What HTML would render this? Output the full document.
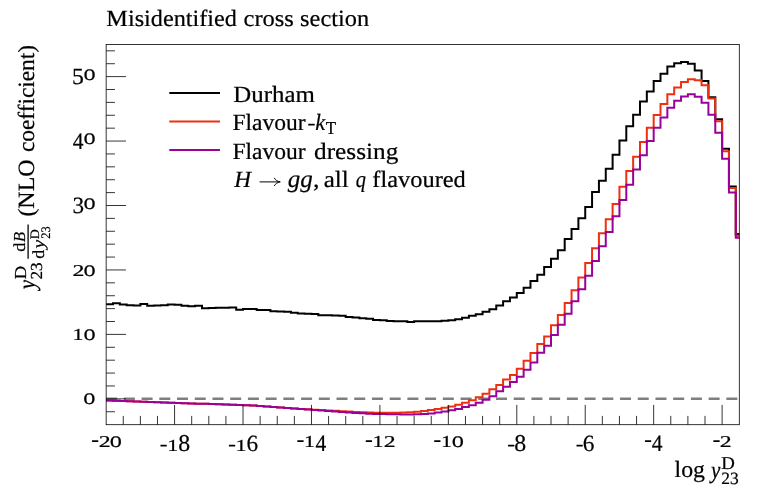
<!DOCTYPE html>
<html><head><meta charset="utf-8"><title>Misidentified cross section</title>
<style>
html,body{margin:0;padding:0;background:#fff;}
body{width:763px;height:488px;overflow:hidden;font-family:"Liberation Serif",serif;}
svg{display:block;}
svg text{text-rendering:geometricPrecision;stroke:#000;stroke-width:0.22px;stroke-linejoin:round;}
</style></head><body>
<svg width="763" height="488" viewBox="0 0 763 488" font-family='"Liberation Serif", serif' fill="#000"><rect x="0" y="0" width="763" height="488" fill="#fff"/><g opacity="0.9999"><path d="M106.15,398.85H737.80" stroke="#7f7f7f" stroke-width="2.5" stroke-dasharray="11.0 6.72" fill="none"/><path d="M106.15,304.15H112.99V303.35H119.84V304.55H126.68V305.15H133.53V305.45H140.37V303.95H147.21V305.65H154.06V305.45H160.90V305.15H167.75V304.55H174.59V304.75H181.43V305.85H188.28V306.25H195.12V305.85H201.97V308.25H208.81V308.05H215.65V307.85H222.50V307.65H229.34V307.45H236.19V309.85H243.03V309.05H249.87V308.95H256.72V309.95H263.56V309.95H270.41V311.25H277.25V311.45H284.09V311.85H290.94V312.65H297.78V313.45H304.63V313.65H311.47V314.05H318.31V315.25H325.16V315.25H332.00V315.45H338.85V315.85H345.69V316.95H352.53V317.55H359.38V318.15H366.22V318.75H373.07V319.95H379.91V320.15H386.75V320.95H393.60V321.15H400.44V321.15H407.29V321.95H414.13V321.35H420.97V321.35H427.82V321.35H434.66V321.35H441.51V320.75H448.35V320.15H455.19V319.15H462.04V317.65H468.88V315.85H475.73V314.25H482.57V311.75H489.41V309.35H496.26V305.45H503.10V301.25H509.95V297.55H516.79V293.05H523.63V287.75H530.48V280.95H537.32V274.75H544.17V266.95H551.01V258.65H557.85V250.25H564.70V239.05H571.54V228.95H578.39V218.35H585.23V206.95H592.07V192.05H598.92V180.85H605.76V168.65H612.61V154.75H619.45V140.55H626.29V126.35H633.14V114.75H639.98V101.55H646.83V91.45H653.67V80.95H660.51V73.85H667.36V66.45H674.20V63.25H681.05V61.95H687.89V63.75H694.73V70.55H701.58V80.95H708.42V97.35H715.27V119.35H722.11V148.85H728.95V186.45H735.80V234.05H739.30" stroke="#000000" stroke-width="2.0" fill="none" stroke-linejoin="miter"/><path d="M106.15,400.48H112.99V400.73H119.84V400.98H126.68V401.22H133.53V401.47H140.37V401.72H147.21V401.97H154.06V402.22H160.90V402.46H167.75V402.71H174.59V402.95H181.43V403.18H188.28V403.41H195.12V403.63H201.97V403.86H208.81V404.09H215.65V404.32H222.50V404.55H229.34V404.78H236.19V405.00H243.03V405.23H249.87V405.59H256.72V406.09H263.56V406.58H270.41V407.08H277.25V407.58H284.09V408.07H290.94V408.50H297.78V408.90H304.63V409.29H311.47V409.68H318.31V410.07H325.16V410.46H332.00V410.86H338.85V411.25H345.69V411.62H352.53V411.99H359.38V412.36H366.22V412.62H373.07V412.68H379.91V412.74H386.75V412.81H393.60V412.79H400.44V412.59H407.29V412.15H414.13V411.65H420.97V411.05H427.82V410.05H434.66V409.05H441.51V407.65H448.35V406.45H455.19V404.75H462.04V402.75H468.88V400.25H475.73V397.25H482.57V393.75H489.41V389.35H496.26V385.05H503.10V379.55H509.95V375.05H516.79V368.75H523.63V360.85H530.48V353.05H537.32V344.05H544.17V336.45H551.01V325.25H557.85V314.95H564.70V302.95H571.54V290.25H578.39V277.45H585.23V262.95H592.07V248.25H598.92V233.15H605.76V219.15H612.61V204.05H619.45V186.75H626.29V171.05H633.14V156.65H639.98V141.95H646.83V127.75H653.67V114.95H660.51V104.05H667.36V94.35H674.20V87.45H681.05V82.05H687.89V79.25H694.73V80.15H701.58V85.35H708.42V98.45H715.27V121.25H722.11V151.25H728.95V187.95H735.80V235.65H739.30" stroke="#ee3010" stroke-width="2.0" fill="none" stroke-linejoin="miter"/><path d="M106.15,400.48H112.99V400.73H119.84V400.98H126.68V401.22H133.53V401.47H140.37V401.72H147.21V401.97H154.06V402.22H160.90V402.46H167.75V402.71H174.59V402.95H181.43V403.18H188.28V403.41H195.12V403.63H201.97V403.86H208.81V404.09H215.65V404.32H222.50V404.55H229.34V404.78H236.19V405.00H243.03V405.23H249.87V405.59H256.72V406.09H263.56V406.58H270.41V407.08H277.25V407.58H284.09V408.07H290.94V408.57H297.78V409.07H304.63V409.56H311.47V410.06H318.31V410.55H325.16V411.03H332.00V411.52H338.85V412.00H345.69V412.46H352.53V412.91H359.38V413.37H366.22V413.72H373.07V413.89H379.91V414.06H386.75V414.23H393.60V414.37H400.44V414.45H407.29V414.55H414.13V414.35H420.97V413.95H427.82V413.55H434.66V412.55H441.51V411.45H448.35V410.25H455.19V409.05H462.04V407.05H468.88V405.15H475.73V402.75H482.57V399.85H489.41V396.25H496.26V391.35H503.10V386.85H509.95V381.95H516.79V376.65H523.63V369.75H530.48V362.45H537.32V352.75H544.17V345.85H551.01V335.05H557.85V324.85H564.70V313.85H571.54V301.25H578.39V289.25H585.23V275.85H592.07V261.05H598.92V246.25H605.76V231.95H612.61V216.15H619.45V200.05H626.29V184.75H633.14V169.45H639.98V155.25H646.83V140.95H653.67V127.75H660.51V117.45H667.36V107.65H674.20V100.85H681.05V96.55H687.89V94.35H694.73V96.85H701.58V102.85H708.42V114.85H715.27V132.65H722.11V158.65H728.95V192.55H735.80V237.75H739.30" stroke="#9a0099" stroke-width="2.0" fill="none" stroke-linejoin="miter"/><path d="M123.26,424.70v-8.8M140.37,424.70v-8.8M157.48,424.70v-8.8M174.59,424.70v-19.8M191.70,424.70v-8.8M208.81,424.70v-8.8M225.92,424.70v-8.8M243.03,424.70v-19.8M260.14,424.70v-8.8M277.25,424.70v-8.8M294.36,424.70v-8.8M311.47,424.70v-19.8M328.58,424.70v-8.8M345.69,424.70v-8.8M362.80,424.70v-8.8M379.91,424.70v-19.8M397.02,424.70v-8.8M414.13,424.70v-8.8M431.24,424.70v-8.8M448.35,424.70v-19.8M465.46,424.70v-8.8M482.57,424.70v-8.8M499.68,424.70v-8.8M516.79,424.70v-19.8M533.90,424.70v-8.8M551.01,424.70v-8.8M568.12,424.70v-8.8M585.23,424.70v-19.8M602.34,424.70v-8.8M619.45,424.70v-8.8M636.56,424.70v-8.8M653.67,424.70v-19.8M670.78,424.70v-8.8M687.89,424.70v-8.8M705.00,424.70v-8.8M722.11,424.70v-19.8M106.15,411.74h8.8M106.15,398.85h19.8M106.15,385.96h8.8M106.15,373.07h8.8M106.15,360.18h8.8M106.15,347.29h8.8M106.15,334.40h19.8M106.15,321.51h8.8M106.15,308.62h8.8M106.15,295.73h8.8M106.15,282.84h8.8M106.15,269.95h19.8M106.15,257.06h8.8M106.15,244.17h8.8M106.15,231.28h8.8M106.15,218.39h8.8M106.15,205.50h19.8M106.15,192.61h8.8M106.15,179.72h8.8M106.15,166.83h8.8M106.15,153.94h8.8M106.15,141.05h19.8M106.15,128.16h8.8M106.15,115.27h8.8M106.15,102.38h8.8M106.15,89.49h8.8M106.15,76.60h19.8M106.15,63.71h8.8M106.15,50.82h8.8" stroke="#000" stroke-width="0.8" fill="none"/><rect x="106.15" y="44.5" width="633.15" height="380.20" fill="none" stroke="#000" stroke-width="0.8"/><path d="M169.3,93.05H220" stroke="#000000" stroke-width="2.0" fill="none"/><path d="M169.3,121.4H220" stroke="#ee3010" stroke-width="2.0" fill="none"/><path d="M169.3,149.9H220" stroke="#9a0099" stroke-width="2.0" fill="none"/><rect x="308.2" y="123.85" width="6.5" height="1.7" rx="0.3"/><path d="M259.6,181.9H279.6" stroke="#000" stroke-width="1.0" fill="none"/><path d="M274.4,178.2C275.5,180.2 277.5,181.4 280.3,181.9C277.5,182.4 275.5,183.6 274.4,185.6" stroke="#000" stroke-width="1.0" fill="none" stroke-linecap="round" stroke-linejoin="round"/><text x="106.35" y="26.20" font-size="23.3" textLength="130.64" lengthAdjust="spacingAndGlyphs">Misidentified</text><text x="243.55" y="26.20" font-size="23.3" textLength="50.35" lengthAdjust="spacingAndGlyphs">cross</text><text x="300.14" y="26.20" font-size="23.3" textLength="69.06" lengthAdjust="spacingAndGlyphs">section</text><text x="233.37" y="102.00" font-size="23.3" textLength="81.56" lengthAdjust="spacingAndGlyphs">Durham</text><text x="232.42" y="130.25" font-size="23.3" textLength="73.24" lengthAdjust="spacingAndGlyphs">Flavour</text><text x="315.21" y="130.00" font-size="23.3" textLength="9.91" lengthAdjust="spacingAndGlyphs" font-style="italic">k</text><text x="325.64" y="134.35" font-size="18.2" textLength="10.34" lengthAdjust="spacingAndGlyphs">T</text><text x="232.42" y="159.10" font-size="23.3" textLength="73.24" lengthAdjust="spacingAndGlyphs">Flavour</text><text x="314.07" y="159.10" font-size="23.3" textLength="84.25" lengthAdjust="spacingAndGlyphs">dressing</text><text x="234.31" y="186.95" font-size="23.3" textLength="16.80" lengthAdjust="spacingAndGlyphs" font-style="italic">H</text><text x="287.83" y="186.95" font-size="24.6" textLength="25.03" lengthAdjust="spacingAndGlyphs" font-style="italic">gg</text><text x="313.01" y="186.95" font-size="23.3" textLength="6.48" lengthAdjust="spacingAndGlyphs">,</text><text x="323.72" y="186.95" font-size="23.3" textLength="25.08" lengthAdjust="spacingAndGlyphs">all</text><text x="355.70" y="186.95" font-size="23.3" textLength="10.21" lengthAdjust="spacingAndGlyphs" font-style="italic">q</text><text x="372.27" y="186.95" font-size="23.3" textLength="93.56" lengthAdjust="spacingAndGlyphs">flavoured</text><text x="674.58" y="476.70" font-size="23.3" textLength="30.48" lengthAdjust="spacingAndGlyphs">log</text><text x="711.03" y="478.20" font-size="24.5" textLength="9.34" lengthAdjust="spacingAndGlyphs" font-style="italic">y</text><text x="721.33" y="469.35" font-size="18.1" textLength="13.62" lengthAdjust="spacingAndGlyphs">D</text><text x="721.17" y="484.30" font-size="17.3" textLength="17.45" lengthAdjust="spacingAndGlyphs">23</text><g transform="rotate(-90)"><text x="-289.17" y="34.90" font-size="24.5" textLength="9.34" lengthAdjust="spacingAndGlyphs" font-style="italic">y</text><text x="-279.38" y="25.80" font-size="16.8" textLength="13.39" lengthAdjust="spacingAndGlyphs">D</text><text x="-279.54" y="41.50" font-size="16.8" textLength="17.13" lengthAdjust="spacingAndGlyphs">23</text><text x="-251.75" y="24.90" font-size="16.8" textLength="9.13" lengthAdjust="spacingAndGlyphs">d</text><text x="-242.05" y="24.90" font-size="16.8" textLength="10.07" lengthAdjust="spacingAndGlyphs" font-style="italic">B</text><text x="-258.72" y="44.30" font-size="16.8" textLength="8.86" lengthAdjust="spacingAndGlyphs">d</text><text x="-248.48" y="44.30" font-size="16.8" textLength="8.74" lengthAdjust="spacingAndGlyphs" font-style="italic">y</text><text x="-239.17" y="39.30" font-size="13.0" textLength="10.01" lengthAdjust="spacingAndGlyphs">D</text><text x="-238.65" y="50.40" font-size="13.0" textLength="12.44" lengthAdjust="spacingAndGlyphs">23</text><text x="-216.64" y="33.90" font-size="23.3" textLength="57.18" lengthAdjust="spacingAndGlyphs">(NLO</text><text x="-152.14" y="33.90" font-size="23.3" textLength="107.17" lengthAdjust="spacingAndGlyphs">coefficient)</text><path d="M-258.7,28.1H-224.6" stroke="#000" stroke-width="1.3" fill="none"/></g><text transform="translate(83.23,404.47) scale(1.0695,1)" font-size="22.71">o</text><text transform="translate(72.47,340.05) scale(1.3100,1)" font-size="16.79">1</text><text transform="translate(83.58,340.02) scale(1.0695,1)" font-size="22.71">o</text><text transform="translate(72.48,275.60) scale(1.4381,1)" font-size="16.52">2</text><text transform="translate(83.58,275.57) scale(1.0695,1)" font-size="22.71">o</text><text transform="translate(72.39,213.02) scale(0.9952,1)" font-size="23.28">3</text><text transform="translate(83.58,208.62) scale(1.0695,1)" font-size="22.71">o</text><text transform="translate(72.87,149.02) scale(0.9077,1)" font-size="23.69">4</text><text transform="translate(83.58,144.17) scale(1.0695,1)" font-size="22.71">o</text><text transform="translate(72.12,84.42) scale(1.0190,1)" font-size="23.31">5</text><text transform="translate(83.58,79.72) scale(1.0695,1)" font-size="22.71">o</text><rect x="92.00" y="440.20" width="6.3" height="1.75" rx="0.3"/><text transform="translate(98.73,446.65) scale(1.4381,1)" font-size="16.52">2</text><text transform="translate(109.63,446.62) scale(1.0695,1)" font-size="22.71">o</text><rect x="160.44" y="444.70" width="6.3" height="1.75" rx="0.3"/><text transform="translate(167.16,451.15) scale(1.3100,1)" font-size="16.79">1</text><text transform="translate(178.19,451.31) scale(0.9860,1)" font-size="24.15">8</text><rect x="228.88" y="444.70" width="6.3" height="1.75" rx="0.3"/><text transform="translate(235.60,451.15) scale(1.3100,1)" font-size="16.79">1</text><text transform="translate(246.58,451.32) scale(1.0005,1)" font-size="23.28">6</text><rect x="297.32" y="440.20" width="6.3" height="1.75" rx="0.3"/><text transform="translate(304.04,446.65) scale(1.3100,1)" font-size="16.79">1</text><text transform="translate(315.59,451.47) scale(0.9077,1)" font-size="23.69">4</text><rect x="365.76" y="440.20" width="6.3" height="1.75" rx="0.3"/><text transform="translate(372.48,446.65) scale(1.3100,1)" font-size="16.79">1</text><text transform="translate(383.64,446.65) scale(1.4381,1)" font-size="16.52">2</text><rect x="434.20" y="440.20" width="6.3" height="1.75" rx="0.3"/><text transform="translate(440.92,446.65) scale(1.3100,1)" font-size="16.79">1</text><text transform="translate(451.83,446.62) scale(1.0695,1)" font-size="22.71">o</text><rect x="508.04" y="444.70" width="6.3" height="1.75" rx="0.3"/><text transform="translate(514.34,451.31) scale(0.9860,1)" font-size="24.15">8</text><rect x="576.48" y="444.70" width="6.3" height="1.75" rx="0.3"/><text transform="translate(582.73,451.32) scale(1.0005,1)" font-size="23.28">6</text><rect x="644.92" y="440.20" width="6.3" height="1.75" rx="0.3"/><text transform="translate(651.74,451.47) scale(0.9077,1)" font-size="23.69">4</text><rect x="713.36" y="440.20" width="6.3" height="1.75" rx="0.3"/><text transform="translate(719.79,446.65) scale(1.4381,1)" font-size="16.52">2</text></g></svg>
</body></html>
